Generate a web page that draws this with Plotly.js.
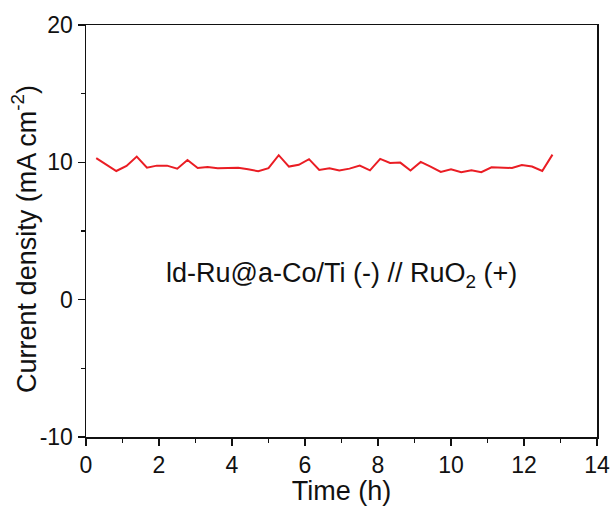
<!DOCTYPE html>
<html>
<head>
<meta charset="utf-8">
<script src="https://cdn.plot.ly/plotly-3.0.1.min.js"></script>
<style>html,body{margin:0;padding:0;background:#fff;}#chart{width:614px;height:506px;}</style>
</head>
<body>
<div id="chart"></div>
<script>
var timeH = [0.28, 0.56, 0.83, 1.11, 1.39, 1.67, 1.94, 2.22, 2.50, 2.78, 3.06, 3.33, 3.61, 3.89, 4.17, 4.44, 4.72, 5.00, 5.28, 5.56, 5.83, 6.11, 6.39, 6.67, 6.94, 7.22, 7.50, 7.78, 8.06, 8.33, 8.61, 8.89, 9.17, 9.44, 9.72, 10.00, 10.28, 10.56, 10.83, 11.11, 11.39, 11.67, 11.94, 12.22, 12.50, 12.78];
var currentDensity = [10.30, 9.85, 9.37, 9.74, 10.42, 9.61, 9.76, 9.76, 9.54, 10.17, 9.59, 9.66, 9.57, 9.59, 9.61, 9.50, 9.35, 9.57, 10.52, 9.69, 9.82, 10.23, 9.45, 9.57, 9.40, 9.54, 9.76, 9.42, 10.25, 9.96, 9.98, 9.40, 10.03, 9.69, 9.30, 9.50, 9.28, 9.42, 9.28, 9.64, 9.61, 9.59, 9.81, 9.69, 9.37, 10.56];
var xTicks = [0, 2, 4, 6, 8, 10, 12, 14];
var yTicks = [-10, 0, 10, 20];
var labelText = 'ld-Ru@a-Co/Ti (-) // RuO<sub>2</sub> (+)';
var xTitle = 'Time (h)';
var yTitle = 'Current density (mA cm<sup>-2</sup>)';

var font = 'Arial, "Liberation Sans", sans-serif';
var ink = '#111';
var trace = {
  x: timeH, y: currentDensity, type: 'scatter', mode: 'lines',
  line: {color: '#ea1d24', width: 2}, hoverinfo: 'none'
};
var layout = {
  width: 614, height: 506,
  margin: {l: 86, r: 17, t: 25, b: 69},
  paper_bgcolor: '#fff', plot_bgcolor: '#fff',
  showlegend: false,
  font: {family: font, color: ink, size: 20},
  xaxis: {
    range: [0, 14], tickvals: xTicks, ticktext: xTicks.map(String),
    showline: true, mirror: true, linecolor: ink, linewidth: 1.5,
    ticks: 'outside', ticklen: 7, tickwidth: 1.5, tickcolor: ink,
    minor: {dtick: 1, ticks: 'outside', ticklen: 4, tickwidth: 1.5, tickcolor: ink, showgrid: false},
    showgrid: false, zeroline: false,
    tickfont: {size: 23, family: font, color: ink},
    title: {text: xTitle, font: {size: 27, family: font, color: ink}, standoff: 0}
  },
  yaxis: {
    range: [-10, 20], tickvals: yTicks, ticktext: yTicks.map(String),
    showline: true, mirror: true, linecolor: ink, linewidth: 1.5,
    ticks: 'outside', ticklen: 7, tickwidth: 1.5, tickcolor: ink,
    minor: {dtick: 5, ticks: 'outside', ticklen: 4, tickwidth: 1.5, tickcolor: ink, showgrid: false},
    showgrid: false, zeroline: false,
    tickfont: {size: 23, family: font, color: ink}
  },
  annotations: [{
    x: 7.0, y: 1.8, xref: 'x', yref: 'y', text: labelText, showarrow: false,
    font: {size: 27, family: font, color: ink}
  }, {
    x: -0.12, y: 0.48, xref: 'paper', yref: 'paper', text: yTitle, showarrow: false,
    textangle: -90, xanchor: 'center', yanchor: 'middle',
    font: {size: 27, family: font, color: ink}
  }]
};
Plotly.newPlot('chart', [trace], layout, {displayModeBar: false, staticPlot: true});
</script>
</body>
</html>
